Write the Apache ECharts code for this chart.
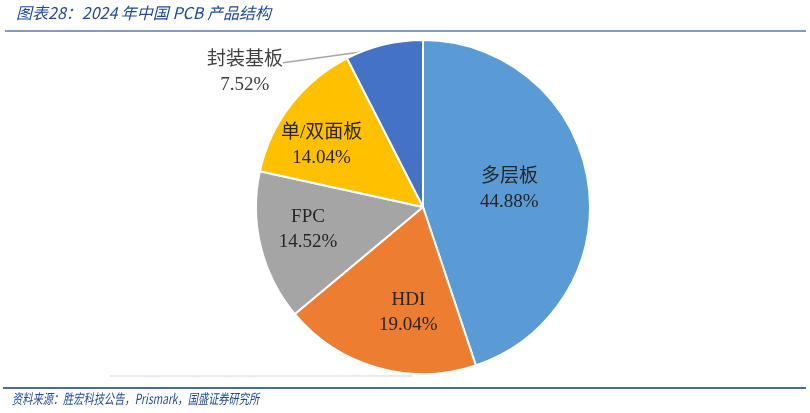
<!DOCTYPE html>
<html><head><meta charset="utf-8">
<script src="https://cdn.jsdelivr.net/npm/echarts@6/dist/echarts.min.js"></script>
<style>html,body{margin:0;padding:0;background:#fff}#c{width:810px;height:413px}</style>
</head><body><div id="c"></div>
<script>
const categories = ['多层板', 'HDI', 'FPC', '单/双面板', '封装基板'];
const values = [44.88, 19.04, 14.52, 14.04, 7.52];
const colors = ['#5B9BD5', '#ED7D31', '#A5A5A5', '#FFC000', '#4472C4'];
const titleText = '图表28：2024 年中国 PCB 产品结构';
const sourceText = '资料来源：胜宏科技公告，Prismark，国盛证券研究所';

const CX = 423, CY = 207, R = 167;
// small label nudges (style only)
const nudge = [[1, -4], [9, 22], [-31, 2], [-33, -9]];

const chart = echarts.init(document.getElementById('c'));
chart.setOption({
  backgroundColor: '#fff',
  animation: false,
  graphic: [
    {type: 'text', left: 16, top: 5, style: {text: titleText, fill: '#1F4A9A', font: 'italic 16px "Noto Sans CJK SC", "Liberation Sans", sans-serif'}},
    {type: 'line', shape: {x1: 5, y1: 31, x2: 806, y2: 31}, style: {stroke: '#7F9ACB', lineWidth: 2}},
    {type: 'line', shape: {x1: 110, y1: 376, x2: 412, y2: 376}, style: {stroke: '#E2E2E2', lineWidth: 1.5}},
    {type: 'line', shape: {x1: 3, y1: 388, x2: 806, y2: 388}, style: {stroke: '#4A6BA8', lineWidth: 2}},
    {type: 'text', x: 12, y: 392, scaleX: 0.73, style: {text: sourceText, fill: '#1F4A9A', font: 'italic 14px "Noto Sans CJK SC", "Liberation Sans", sans-serif'}}
  ],
  series: [{
    type: 'pie',
    center: [CX, CY],
    radius: R,
    startAngle: 90,
    clockwise: true,
    itemStyle: {borderColor: '#fff', borderWidth: 2},
    label: {
      show: true,
      position: 'inside',
      formatter: p => p.name + '\n' + p.value.toFixed(2) + '%',
      fontFamily: '"Liberation Serif", "Noto Sans CJK SC", serif',
      fontSize: 19,
      lineHeight: 25,
      color: '#262626'
    },
    labelLayout: function (p) {
      const i = p.dataIndex;
      if (i === 4) {
        const pts = p.labelLinePoints;
        if (!pts) return {};
        const s = pts[0];
        const start = [s[0] - 7, s[1] + 5];
        const end = [start[0] - 94, start[1] + 13];
        return {
          x: end[0] - 38, y: end[1] + 10,
          align: 'center', verticalAlign: 'middle',
          labelLinePoints: [start, end, end]
        };
      }
      return {dx: nudge[i][0], dy: nudge[i][1]};
    },
    data: categories.map((n, i) => {
      const d = {name: n, value: values[i], itemStyle: {color: colors[i]}};
      if (i === 4) {
        d.label = {position: 'outside', alignTo: 'none', color: '#404040'};
        d.labelLine = {show: true, length: 5, length2: 95, lineStyle: {color: '#A6A6A6', width: 1.5}};
      }
      return d;
    })
  }]
});
</script></body></html>
